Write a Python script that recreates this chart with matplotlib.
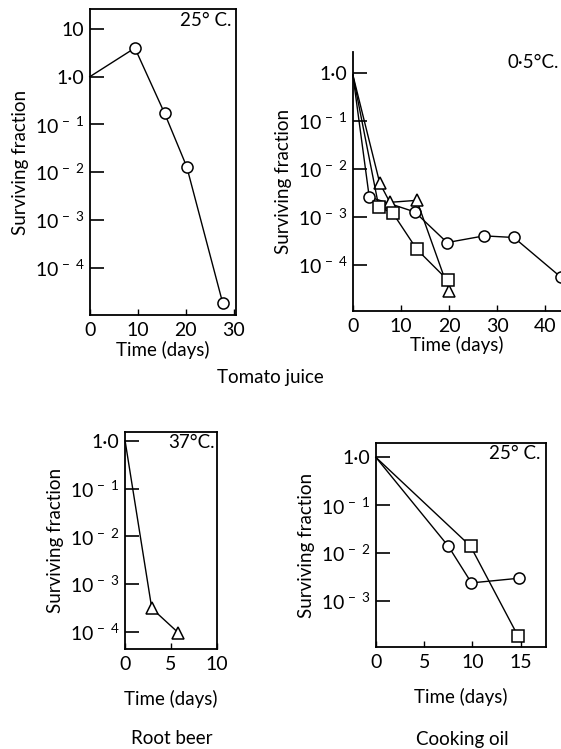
import numpy as np
import matplotlib
matplotlib.use("Agg")
import matplotlib.pyplot as plt

plt.rcParams['font.family'] = ['Lato', 'DejaVu Sans']
plt.rcParams['mathtext.fontset'] = 'custom'
plt.rcParams['mathtext.rm'] = 'Lato'
plt.rcParams['mathtext.it'] = 'Lato'
plt.rcParams['font.size'] = 13

# tomato juice 25 C
tj25_day = [0, 9.4, 15.6, 20.2, 27.7]
tj25_frac = [1.0, 4.0, 0.17, 0.013, 1.8e-5]

# tomato juice 0.5 C, three strains
tj05_circ_day = [0, 3.4, 12.9, 19.6, 27.3, 33.5, 43.2]
tj05_circ_frac = [0.9, 2.6e-3, 1.26e-3, 2.9e-4, 4.0e-4, 3.7e-4, 5.6e-5]
tj05_tri_day = [0, 5.6, 7.7, 13.3, 20.0]
tj05_tri_frac = [0.9, 5.0e-3, 2.0e-3, 2.2e-3, 2.9e-5]
tj05_sq_day = [0, 5.4, 8.3, 13.3, 19.8]
tj05_sq_frac = [0.9, 1.6e-3, 1.2e-3, 2.1e-4, 4.7e-5]

# root beer 37 C
rb_day = [0, 2.9, 5.8]
rb_frac = [1.0, 3.1e-4, 9.5e-5]

# cooking oil 25 C
co_circ_day = [0, 7.5, 9.9, 14.8]
co_circ_frac = [1.0, 1.4e-2, 2.4e-3, 3.0e-3]
co_sq_day = [0, 9.8, 14.7]
co_sq_frac = [1.0, 1.4e-2, 1.9e-4]

ytick_vals = [10, 1, 0.1, 0.01, 1e-3, 1e-4]
ytick_labs = ['10', '1·0', r'$10^{\,-\;1}$', r'$10^{\,-\;2}$', r'$10^{\,-\;3}$', r'$10^{\,-\;4}$']

fig = plt.figure(figsize=(5.61, 7.49), dpi=100)

def setup(ax, xlim, ylim, xticks, yt, temp, top_right=True):
    ax.set_yscale('log')
    ax.set_xlim(*xlim)
    ax.set_ylim(*ylim)
    ax.set_xticks(xticks)
    ax.set_xticklabels([str(t) for t in xticks], fontsize=14)
    ax.set_yticks(ytick_vals[yt[0]:yt[1]])
    ax.set_yticklabels(ytick_labs[yt[0]:yt[1]], fontsize=14)
    ax.yaxis.set_minor_locator(matplotlib.ticker.NullLocator())
    ax.tick_params(axis='y', direction='in', length=10, width=1.2, pad=4)
    ax.tick_params(axis='x', direction='in', length=4, width=1.0, pad=5)
    for s in ax.spines.values():
        s.set_linewidth(1.3)
    if not top_right:
        ax.spines['top'].set_visible(False)
        ax.spines['right'].set_visible(False)
    ax.text(0.97, 0.99, temp, transform=ax.transAxes, ha='right', va='top', fontsize=13.5)
    ax.set_ylabel('Surviving fraction', fontsize=13.5)
    ax.set_xlabel('Time (days)', fontsize=13.5, labelpad=1)

mk = dict(color='black', lw=1.0, markersize=8, markerfacecolor='white',
          markeredgecolor='black', markeredgewidth=1.1, clip_on=False)

# panel 1
ax1 = fig.add_axes([0.160, 0.579, 0.261, 0.409])
ax1.plot(tj25_day, tj25_frac, color='black', lw=1.0, clip_on=False)
ax1.plot(tj25_day[1:], tj25_frac[1:], 'o', **mk)
setup(ax1, (0, 30.5), (10**-5.0, 10**1.42), [0, 10, 20, 30], (0, 6), '25° C.')

# panel 2
ax2 = fig.add_axes([0.629, 0.585, 0.371, 0.346])
for d, f, m in [(tj05_circ_day, tj05_circ_frac, 'o'),
                (tj05_tri_day, tj05_tri_frac, '^'),
                (tj05_sq_day, tj05_sq_frac, 's')]:
    ax2.plot(d, f, color='black', lw=1.0, clip_on=False)
    ax2.plot(d[1:], f[1:], m, **mk)
setup(ax2, (0, 43.3), (10**-4.96, 10**0.44), [0, 10, 20, 30, 40], (1, 6), '', top_right=False)
ax2.text(0.99, 0.99, '0·5°C.', transform=ax2.transAxes, ha='right', va='top', fontsize=13.5)

# panel 3
ax3 = fig.add_axes([0.223, 0.1335, 0.164, 0.290])
ax3.plot(rb_day, rb_frac, color='black', lw=1.0, clip_on=False)
ax3.plot(rb_day[1:], rb_frac[1:], '^', **mk)
setup(ax3, (0, 10), (10**-4.36, 10**0.19), [0, 5, 10], (1, 6), '37°C.')
ax3.xaxis.labelpad = 12

# panel 4
ax4 = fig.add_axes([0.670, 0.136, 0.303, 0.272])
for d, f, m in [(co_circ_day, co_circ_frac, 'o'), (co_sq_day, co_sq_frac, 's')]:
    ax4.plot(d, f, color='black', lw=1.0, clip_on=False)
    ax4.plot(d[1:], f[1:], m, **mk)
setup(ax4, (0, 17.6), (10**-3.96, 10**0.29), [0, 5, 10, 15], (1, 5), '25° C.')
ax4.xaxis.labelpad = 12

fig.text(270 / 561, 1 - 378 / 749, 'Tomato juice', ha='center', va='center', fontsize=13.5)
fig.text(172 / 561, 1 - 738 / 749, 'Root beer', ha='center', va='center', fontsize=13.5)
fig.text(462 / 561, 1 - 740 / 749, 'Cooking oil', ha='center', va='center', fontsize=13.5)

fig.savefig('out.png', dpi=100)
